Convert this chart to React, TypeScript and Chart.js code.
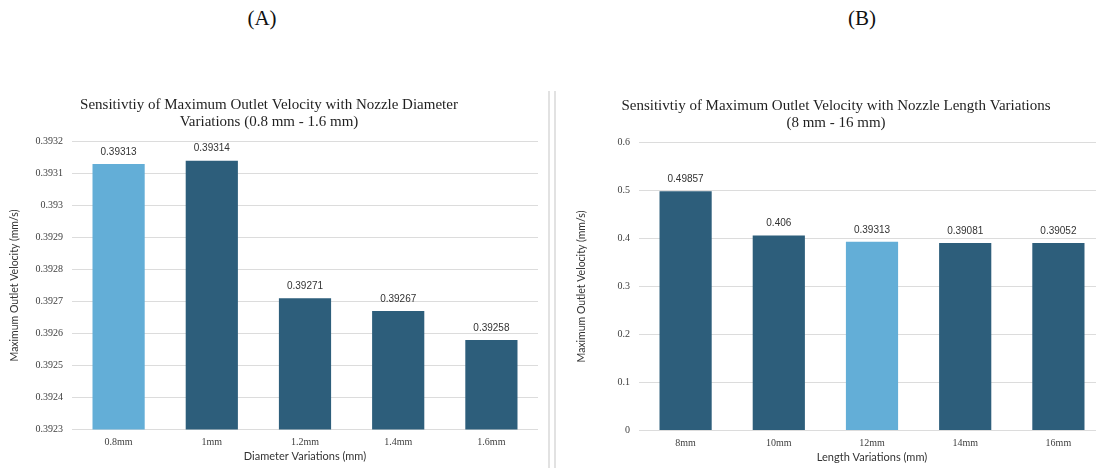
import React, { useEffect, useRef } from 'react';
import { Chart, registerables } from 'chart.js';

Chart.register(...registerables);

// Nozzle diameter study
const diameterLabels = ['0.8mm', '1mm', '1.2mm', '1.4mm', '1.6mm'];
const diameterVelocity = [0.39313, 0.39314, 0.39271, 0.39267, 0.39258];
const diameterTicks = ['0.3923', '0.3924', '0.3925', '0.3926', '0.3927', '0.3928', '0.3929', '0.393', '0.3931', '0.3932'];
const diameterBaseline = '0.8mm';

// Nozzle length study
const lengthLabels = ['8mm', '10mm', '12mm', '14mm', '16mm'];
const lengthVelocity = [0.49857, 0.406, 0.39313, 0.39081, 0.39052];
const lengthTicks = ['0', '0.1', '0.2', '0.3', '0.4', '0.5', '0.6'];
const lengthBaseline = '12mm';

const DARK = '#2d5e7b';
const LIGHT = '#63aed7';
const SERIF = "'Liberation Serif', 'Times New Roman', serif";
const SANS = "'Liberation Sans', Arial, sans-serif";
const LATO = "Lato, 'Open Sans', sans-serif";

const valueLabels = {
  id: 'valueLabels',
  afterDatasetsDraw(chart: any) {
    const { ctx } = chart;
    const ds = chart.data.datasets[0];
    const meta = chart.getDatasetMeta(0);
    ctx.save();
    ctx.font = `10px ${SANS}`;
    ctx.fillStyle = '#333333';
    ctx.textAlign = 'center';
    ctx.textBaseline = 'middle';
    meta.data.forEach((bar: any, i: number) => {
      ctx.fillText(String(ds.data[i]), bar.x, bar.y - 12);
    });
    ctx.restore();
  },
};

type PanelProps = {
  title: string[];
  labels: string[];
  values: number[];
  ticks: string[];
  baseline: string;
  xTitle: string;
  left: number;
  top: number;
};

function BarPanel({ title, labels, values, ticks, baseline, xTitle, left, top }: PanelProps) {
  const ref = useRef<HTMLCanvasElement>(null);

  useEffect(() => {
    if (!ref.current) return;
    const min = Number(ticks[0]);
    const max = Number(ticks[ticks.length - 1]);
    const step = Number(ticks[1]) - Number(ticks[0]);
    const chart = new Chart(ref.current, {
      type: 'bar',
      data: {
        labels,
        datasets: [
          {
            data: values,
            backgroundColor: labels.map((l) => (l === baseline ? LIGHT : DARK)),
            categoryPercentage: 1,
            barPercentage: 0.56,
          },
        ],
      },
      options: {
        animation: false,
        responsive: false,
        maintainAspectRatio: false,
        layout: { padding: { left: 0, right: 0, top: 0, bottom: 0 } },
        plugins: {
          legend: { display: false },
          tooltip: { enabled: false },
          title: {
            display: true,
            text: title,
            color: '#1f1f1f',
            font: { family: SERIF, size: 15, weight: 'normal', lineHeight: 1.15 },
            padding: { top: 6, bottom: 11 },
          },
        },
        scales: {
          x: {
            grid: { display: false, drawTicks: false },
            border: { display: false },
            ticks: { color: '#404040', font: { family: SERIF, size: 10 }, padding: 7 },
            title: {
              display: true,
              text: xTitle,
              color: '#333333',
              font: { family: LATO, size: 11 },
              padding: { top: 0, bottom: 4 },
            },
            afterFit(scale: any) {
              scale.height = 37.5;
            },
          },
          y: {
            min,
            max,
            grid: { color: '#dcdcdc', lineWidth: 1, drawTicks: false },
            border: { display: false },
            ticks: {
              stepSize: step,
              color: '#404040',
              font: { family: SERIF, size: 10 },
              padding: 9,
              callback: (v: any) => {
                const hit = ticks.find((t) => Math.abs(Number(t) - Number(v)) < step / 2);
                return hit ?? '';
              },
            },
            title: {
              display: true,
              text: 'Maximum Outlet Velocity (mm/s)',
              color: '#333333',
              font: { family: LATO, size: 10.5 },
              padding: { top: 8, bottom: 0 },
            },
            afterFit(scale: any) {
              scale.width = 72;
            },
          },
        },
      },
      plugins: [valueLabels],
    });
    return () => chart.destroy();
  }, []);

  return (
    <canvas
      ref={ref}
      width={538}
      height={377}
      style={{ position: 'absolute', left, top, width: 538, height: 377 }}
    />
  );
}

export default function App() {
  const header: React.CSSProperties = {
    position: 'absolute',
    top: 6,
    width: 100,
    textAlign: 'center',
    fontFamily: SERIF,
    fontSize: 21,
    lineHeight: '24px',
    color: '#111111',
  };
  const rule: React.CSSProperties = {
    position: 'absolute',
    top: 91,
    bottom: 0,
    width: 2,
    background: '#e2e2e2',
  };
  return (
    <div
      style={{
        position: 'fixed',
        left: 0,
        top: 0,
        width: 1096,
        height: 468,
        overflow: 'hidden',
        background: '#ffffff',
      }}
    >
      <div style={{ ...header, left: 212 }}>(A)</div>
      <div style={{ ...header, left: 812 }}>(B)</div>
      <div style={{ ...rule, left: 548 }} />
      <div style={{ ...rule, left: 554 }} />
      <BarPanel
        title={['Sensitivtiy of Maximum Outlet Velocity with Nozzle Diameter', 'Variations (0.8 mm - 1.6 mm)']}
        labels={diameterLabels}
        values={diameterVelocity}
        ticks={diameterTicks}
        baseline={diameterBaseline}
        xTitle="Diameter Variations (mm)"
        left={0}
        top={90}
      />
      <BarPanel
        title={['Sensitivtiy of Maximum Outlet Velocity with Nozzle Length Variations', '(8 mm - 16 mm)']}
        labels={lengthLabels}
        values={lengthVelocity}
        ticks={lengthTicks}
        baseline={lengthBaseline}
        xTitle="Length Variations (mm)"
        left={567}
        top={91}
      />
    </div>
  );
}
